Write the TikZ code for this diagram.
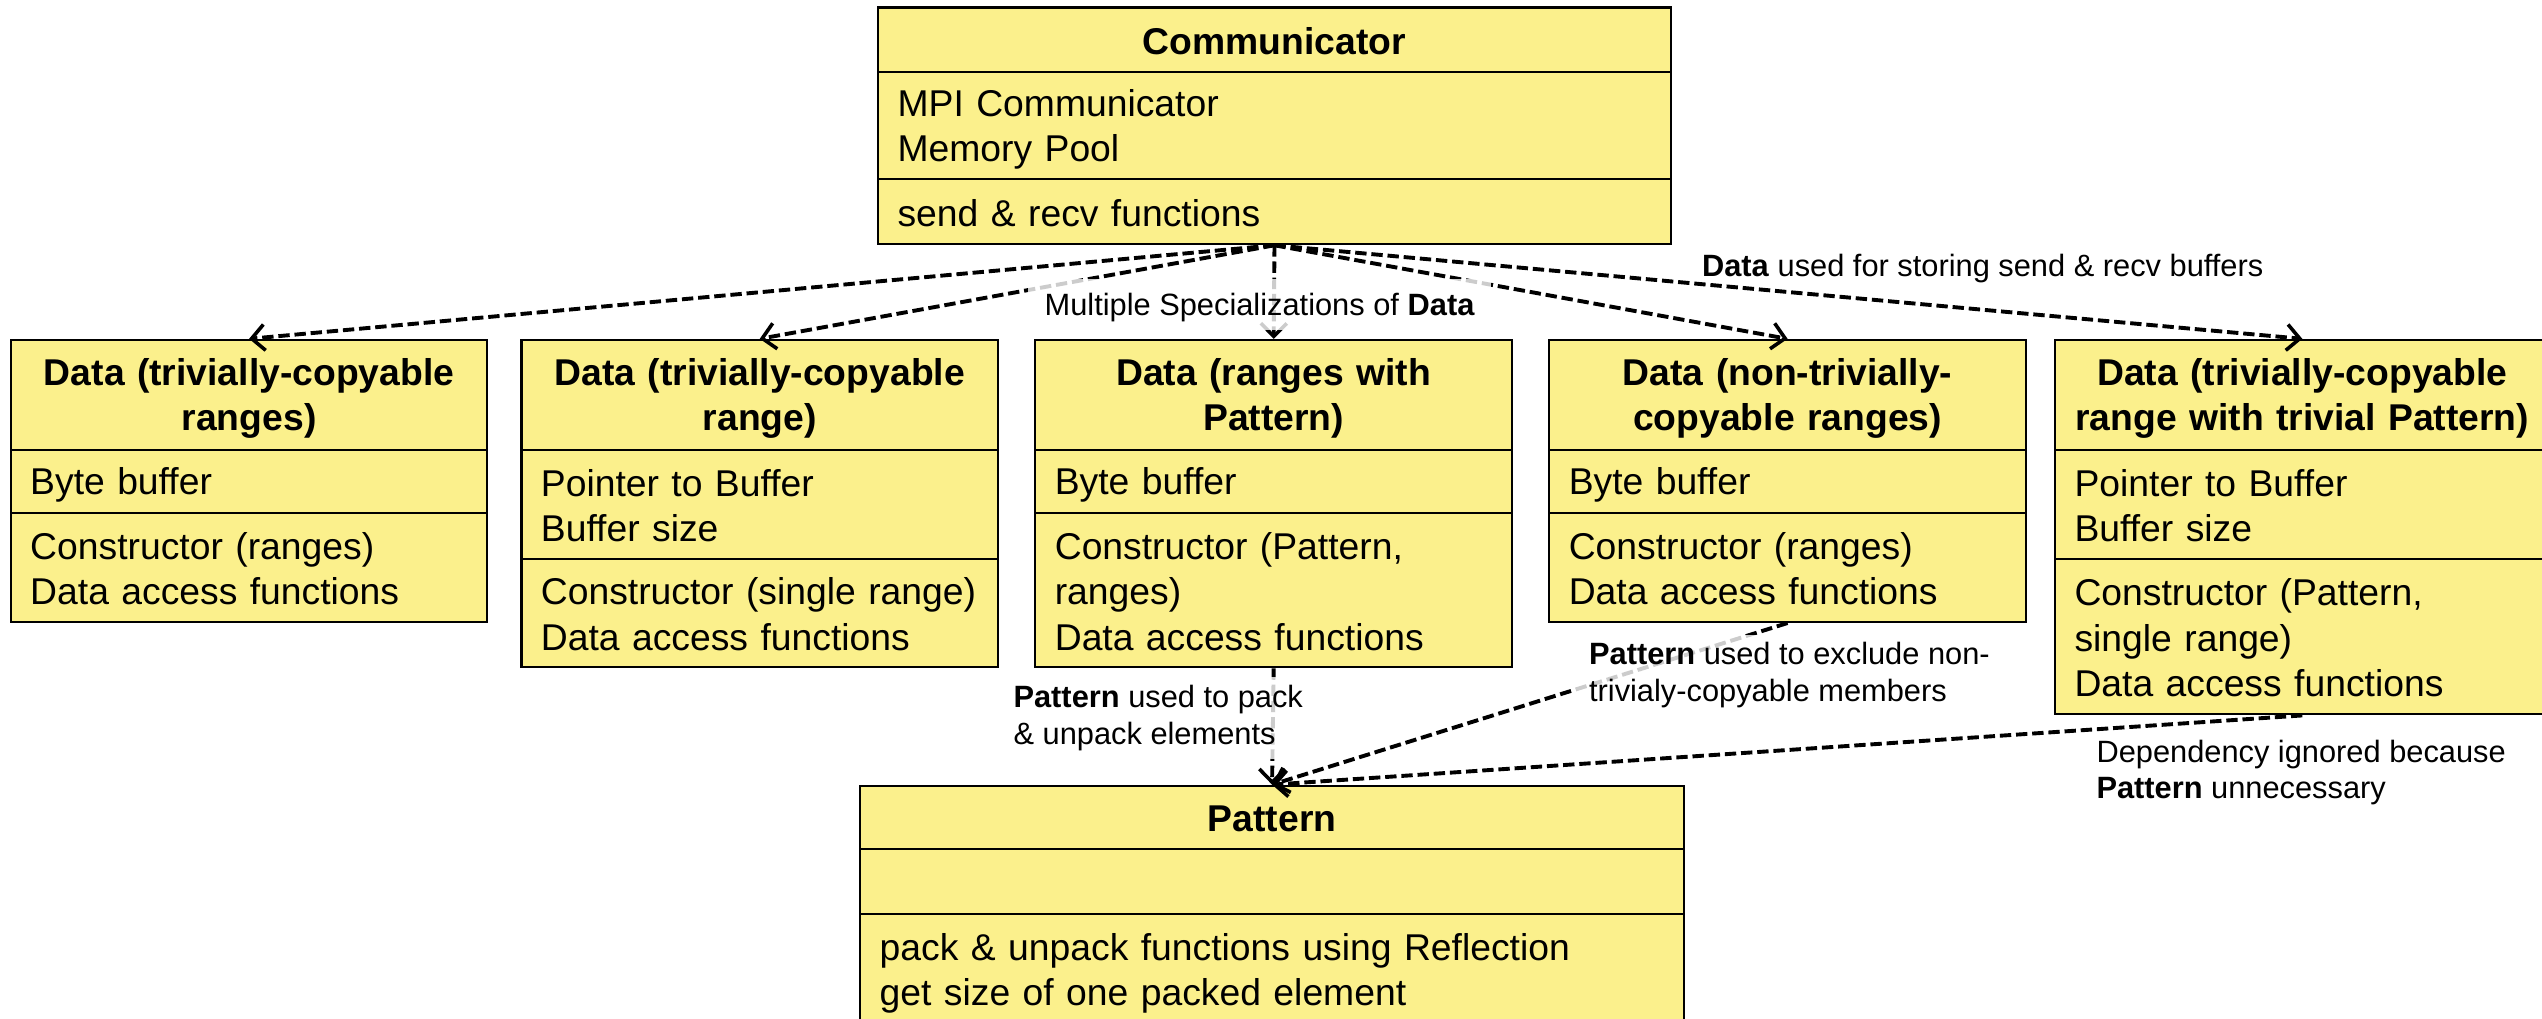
\documentclass[tikz,border=0pt]{standalone}
\usepackage{fontspec}
\setmainfont{Liberation Sans}
\usetikzlibrary{arrows.meta}
\definecolor{classfill}{RGB}{251,240,140}
% line strut: fixes the ascent and descent of a text line in a class row
\newcommand\rowstrut{\rule[-3pt]{0pt}{24pt}}
\newcommand\notestrut{\rule[-2.5pt]{0pt}{20pt}}
\begin{document}
\begin{tikzpicture}[x=1pt,y=-1pt,
  row/.style={draw=black, line width=1.3pt, fill=classfill, anchor=north west,
    inner xsep=12pt, inner ysep=0pt, font=\fontsize{23}{28}\selectfont,
    execute at begin node=\rowstrut, execute at end node=\rowstrut},
  ttl/.style={row, align=center, font=\fontsize{23}{28}\selectfont\bfseries},
  body/.style={row, align=left},
  dep/.style={line width=2.4pt, dash pattern=on 7pt off 3pt,
    -{Straight Barb[length=8pt,width=16pt,line width=2.2pt]}},
  note/.style={font=\fontsize{19}{22.5}\selectfont, align=left, inner xsep=10pt, inner ysep=5pt,
    execute at begin node=\notestrut, execute at end node=\notestrut},
  veil/.style={note, fill=white, fill opacity=0.8, text opacity=1}
]
\clip (0,0) rectangle (1568,628);

% Communicator
\node[ttl,  minimum width=489pt, text width=465pt, minimum height=40pt] (c1) at (541,4) {Communicator};
\node[body, minimum width=489pt, text width=465pt, minimum height=66pt] (c2) at (541,44) {MPI Communicator\\Memory Pool};
\node[body, minimum width=489pt, text width=465pt, minimum height=40pt] (c3) at (541,110) {send \& recv functions};

% Data (trivially-copyable ranges)
\node[ttl,  minimum width=294pt, text width=270pt, minimum height=68pt] (d1t) at (6,209) {Data (trivially-copyable\\ranges)};
\node[body, minimum width=294pt, text width=270pt, minimum height=39pt] (d1a) at (6,277) {Byte buffer};
\node[body, minimum width=294pt, text width=270pt, minimum height=67pt] (d1o) at (6,316) {Constructor (ranges)\\Data access functions};

% Data (trivially-copyable range)
\node[ttl,  minimum width=294pt, text width=270pt, minimum height=68pt] (d2t) at (321,209) {Data (trivially-copyable\\range)};
\node[body, minimum width=294pt, text width=270pt, minimum height=67pt] (d2a) at (321,277) {Pointer to Buffer\\Buffer size};
\node[body, minimum width=294pt, text width=270pt, minimum height=67pt] (d2o) at (321,344) {Constructor (single range)\\Data access functions};

% Data (ranges with Pattern)
\node[ttl,  minimum width=294pt, text width=270pt, minimum height=68pt] (d3t) at (638,209) {Data (ranges with\\Pattern)};
\node[body, minimum width=294pt, text width=270pt, minimum height=39pt] (d3a) at (638,277) {Byte buffer};
\node[body, minimum width=294pt, text width=270pt, minimum height=95pt] (d3o) at (638,316) {Constructor (Pattern,\\ranges)\\Data access functions};

% Data (non-trivially-copyable ranges)
\node[ttl,  minimum width=294pt, text width=270pt, minimum height=68pt] (d4t) at (955,209) {Data (non-trivially-\\copyable ranges)};
\node[body, minimum width=294pt, text width=270pt, minimum height=39pt] (d4a) at (955,277) {Byte buffer};
\node[body, minimum width=294pt, text width=270pt, minimum height=67pt] (d4o) at (955,316) {Constructor (ranges)\\Data access functions};

% Data (trivially-copyable range with trivial Pattern)
\node[ttl,  minimum width=305pt, text width=281pt, minimum height=68pt] (d5t) at (1267,209) {Data (trivially-copyable\\range with trivial Pattern)};
\node[body, minimum width=305pt, text width=281pt, minimum height=67pt] (d5a) at (1267,277) {Pointer to Buffer\\Buffer size};
\node[body, minimum width=305pt, text width=281pt, minimum height=96pt] (d5o) at (1267,344) {Constructor (Pattern,\\single range)\\Data access functions};

% Pattern
\node[ttl,  minimum width=508pt, text width=484pt, minimum height=39pt] (pt) at (530,484) {Pattern};
\node[body, minimum width=508pt, text width=484pt, minimum height=40pt] (pa) at (530,523) {};
\node[body, minimum width=508pt, text width=484pt, minimum height=69pt] (po) at (530,563) {pack \& unpack functions using Reflection\\get size of one packed element};

% Communicator uses the Data specializations
\draw[dep] (c3.south) -- (d1t.north);
\draw[dep] (c3.south) -- (d2t.north);
\draw[dep] (c3.south) -- (d3t.north);
\draw[dep] (c3.south) -- (d4t.north);
\draw[dep] (c3.south) -- (d5t.north);

% Data specializations depending on Pattern
\draw[dep] (d3o.south) -- (pt.north);
\draw[dep] (d4o.south) -- (pt.north);
\draw[dep] (d5o.south) -- (pt.north);

% Notes
\node[veil] (nspec) at (777,188) {Multiple Specializations of \textbf{Data}};
\node[note] (nbuf) at (1223,164) {\textbf{Data} used for storing send \& recv buffers};
\node[veil, anchor=west] (npack) at (615,443) {\textbf{Pattern} used to pack\\\& unpack elements};
\node[veil, anchor=west] (nexcl) at (970,416.5) {\textbf{Pattern} used to exclude non-\\trivialy-copyable members};
\node[note, anchor=west] (nign) at (1283,476.5) {Dependency ignored because\\\textbf{Pattern} unnecessary};
\end{tikzpicture}
\end{document}
